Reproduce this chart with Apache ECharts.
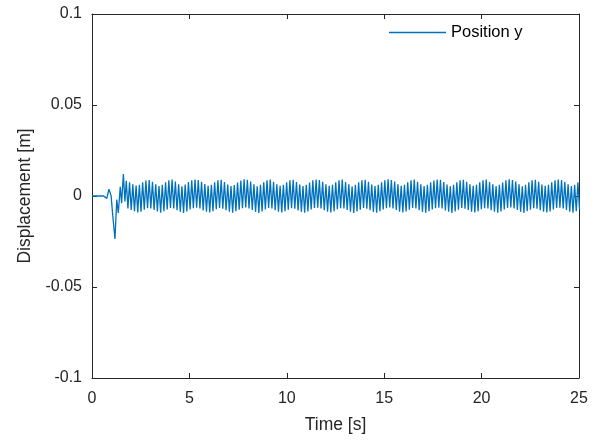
<!DOCTYPE html>
<html>
<head>
<meta charset="utf-8">
<script src="https://cdn.jsdelivr.net/npm/echarts@6/dist/echarts.min.js"></script>
<style>
  html, body { margin: 0; padding: 0; background: #ffffff; }
  #chart { width: 608px; height: 441px; }
</style>
</head>
<body>
<div id="chart"></div>
<script>
// Start-up transient of the y position: sample times [s] and displacement [m]
const transientTime = [0, 0.60, 0.70, 0.76, 0.87, 0.98, 1.06, 1.18, 1.27, 1.35, 1.45, 1.52, 1.61, 1.69, 1.76];
const transientDisp = [0, 0, -0.0006, -0.0013, 0.0037, 0.0002, -0.0100, -0.0236, -0.0020, -0.0093, 0.0050, -0.0040, 0.0121, -0.0030, 0.0084];

// Steady oscillation after the transient: successive extremes (trough, peak, trough, ...)
// spaced by a fixed half period starting right after the last transient sample
const oscStart = 1.76;     // s
const oscHalfStep = 0.084; // s
const oscDisp = [
  -0.0069, 0.0075, -0.0077, 0.0064, -0.0084, 0.0057, -0.0090, 0.0062,
  -0.0086, 0.0076, -0.0075, 0.0085, -0.0067, 0.0088, -0.0069, 0.0078,
  -0.0077, 0.0065, -0.0085, 0.0055, -0.0092, 0.0061, -0.0084, 0.0075,
  -0.0074, 0.0087, -0.0066, 0.0090, -0.0068, 0.0079, -0.0078, 0.0064,
  -0.0087, 0.0054, -0.0093, 0.0063, -0.0085, 0.0077, -0.0074, 0.0086,
  -0.0067, 0.0091, -0.0064, 0.0088, -0.0069, 0.0078, -0.0079, 0.0066,
  -0.0086, 0.0056, -0.0091, 0.0062, -0.0083, 0.0076, -0.0073, 0.0087,
  -0.0066, 0.0089, -0.0070, 0.0077, -0.0078, 0.0063, -0.0086, 0.0055,
  -0.0092, 0.0060, -0.0084, 0.0074, -0.0075, 0.0085, -0.0067, 0.0092,
  -0.0063, 0.0089, -0.0068, 0.0079, -0.0077, 0.0065, -0.0087, 0.0054,
  -0.0093, 0.0061, -0.0085, 0.0075, -0.0074, 0.0086, -0.0066, 0.0090,
  -0.0069, 0.0078, -0.0078, 0.0064, -0.0086, 0.0056, -0.0091, 0.0062,
  -0.0084, 0.0076, -0.0075, 0.0087, -0.0067, 0.0089, -0.0070, 0.0077,
  -0.0079, 0.0063, -0.0087, 0.0055, -0.0092, 0.0061, -0.0085, 0.0074,
  -0.0074, 0.0086, -0.0066, 0.0091, -0.0064, 0.0088, -0.0068, 0.0078,
  -0.0078, 0.0065, -0.0086, 0.0056, -0.0091, 0.0062, -0.0084, 0.0076,
  -0.0073, 0.0087, -0.0067, 0.0090, -0.0069, 0.0077, -0.0077, 0.0064,
  -0.0086, 0.0054, -0.0093, 0.0061, -0.0085, 0.0075, -0.0075, 0.0086,
  -0.0066, 0.0089, -0.0070, 0.0078, -0.0078, 0.0063, -0.0087, 0.0055,
  -0.0092, 0.0062, -0.0084, 0.0076, -0.0074, 0.0087, -0.0067, 0.0092,
  -0.0063, 0.0088, -0.0069, 0.0079, -0.0077, 0.0065, -0.0086, 0.0056,
  -0.0091, 0.0061, -0.0085, 0.0075, -0.0075, 0.0086, -0.0066, 0.0090,
  -0.0068, 0.0078, -0.0078, 0.0064, -0.0087, 0.0055, -0.0092, 0.0062,
  -0.0084, 0.0076, -0.0074, 0.0085, -0.0067, 0.0091, -0.0064, 0.0089,
  -0.0069, 0.0077, -0.0079, 0.0063, -0.0086, 0.0054, -0.0093, 0.0061,
  -0.0085, 0.0075, -0.0075, 0.0087, -0.0066, 0.0089, -0.0070, 0.0078,
  -0.0077, 0.0064, -0.0087, 0.0056, -0.0091, 0.0062, -0.0084, 0.0076,
  -0.0073, 0.0086, -0.0067, 0.0090, -0.0069, 0.0077, -0.0078, 0.0065,
  -0.0086, 0.0055, -0.0092, 0.0061, -0.0085, 0.0074, -0.0074, 0.0086,
  -0.0066, 0.0092, -0.0063, 0.0088, -0.0068, 0.0079, -0.0077, 0.0064,
  -0.0087, 0.0054, -0.0093, 0.0062, -0.0084, 0.0076, -0.0075, 0.0087,
  -0.0067, 0.0089, -0.0070, 0.0078, -0.0078, 0.0063, -0.0086, 0.0056,
  -0.0091, 0.0061, -0.0085, 0.0075, -0.0074, 0.0086, -0.0066, 0.0091,
  -0.0064, 0.0088, -0.0069, 0.0078, -0.0077, 0.0065, -0.0086, 0.0055,
  -0.0092, 0.0062, -0.0084, 0.0076, -0.0075
];

// Axis ranges and ticks
const timeTicks = { min: 0, max: 25, interval: 5 };
const dispTicks = { min: -0.1, max: 0.1, interval: 0.05 };

const seriesName = 'Position y';
const lineColor = '#0072BD';
const inkColor = '#262626';
const fontFamily = 'Liberation Sans, Arial, Helvetica, sans-serif';

// Build [time, displacement] pairs
const points = [];
for (let i = 0; i < transientTime.length; i++) {
  points.push([transientTime[i], transientDisp[i]]);
}
for (let i = 0; i < oscDisp.length; i++) {
  points.push([+(oscStart + (i + 1) * oscHalfStep).toFixed(4), oscDisp[i]]);
}

const tickLabel = { color: inkColor, fontSize: 16, fontFamily: fontFamily };
const titleText = { color: inkColor, fontSize: 17.5, fontFamily: fontFamily };

function boxAxis(base, position, showLabels, extra) {
  return Object.assign({
    type: 'value',
    position: position,
    min: base.min, max: base.max, interval: base.interval,
    axisLine: { show: true, onZero: false, lineStyle: { color: inkColor, width: 1 } },
    axisTick: { show: true, inside: true, length: 5, lineStyle: { color: inkColor, width: 1 } },
    axisLabel: Object.assign({ show: showLabels }, tickLabel),
    splitLine: { show: false }
  }, extra || {});
}

const chart = echarts.init(document.getElementById('chart'), null, { renderer: 'canvas' });

chart.setOption({
  animation: false,
  backgroundColor: '#ffffff',
  grid: { left: 92, right: 29, top: 14, bottom: 63, containLabel: false },
  legend: {
    data: [seriesName],
    left: 389,
    top: 24,
    icon: 'rect',
    itemWidth: 57,
    itemHeight: 1.5,
    textStyle: { color: '#000000', fontSize: 16.5, fontFamily: fontFamily },
    padding: 0
  },
  xAxis: [
    boxAxis(timeTicks, 'bottom', true, {
      name: 'Time [s]',
      nameLocation: 'middle',
      nameGap: 38,
      nameTextStyle: titleText,
      axisLabel: Object.assign({ show: true, margin: 13 }, tickLabel)
    }),
    boxAxis(timeTicks, 'top', false)
  ],
  yAxis: [
    boxAxis(dispTicks, 'left', true, {
      name: 'Displacement [m]',
      nameLocation: 'middle',
      nameGap: 58,
      nameTextStyle: titleText,
      axisLabel: Object.assign({
        show: true, margin: 10,
        formatter: function (v) { return String(+v.toFixed(2)); }
      }, tickLabel)
    }),
    boxAxis(dispTicks, 'right', false)
  ],
  series: [{
    name: seriesName,
    type: 'line',
    xAxisIndex: 0,
    yAxisIndex: 0,
    data: points,
    showSymbol: false,
    symbol: 'none',
    sampling: null,
    clip: true,
    itemStyle: { color: lineColor },
    lineStyle: { color: lineColor, width: 1.3 }
  }]
});
</script>
</body>
</html>
